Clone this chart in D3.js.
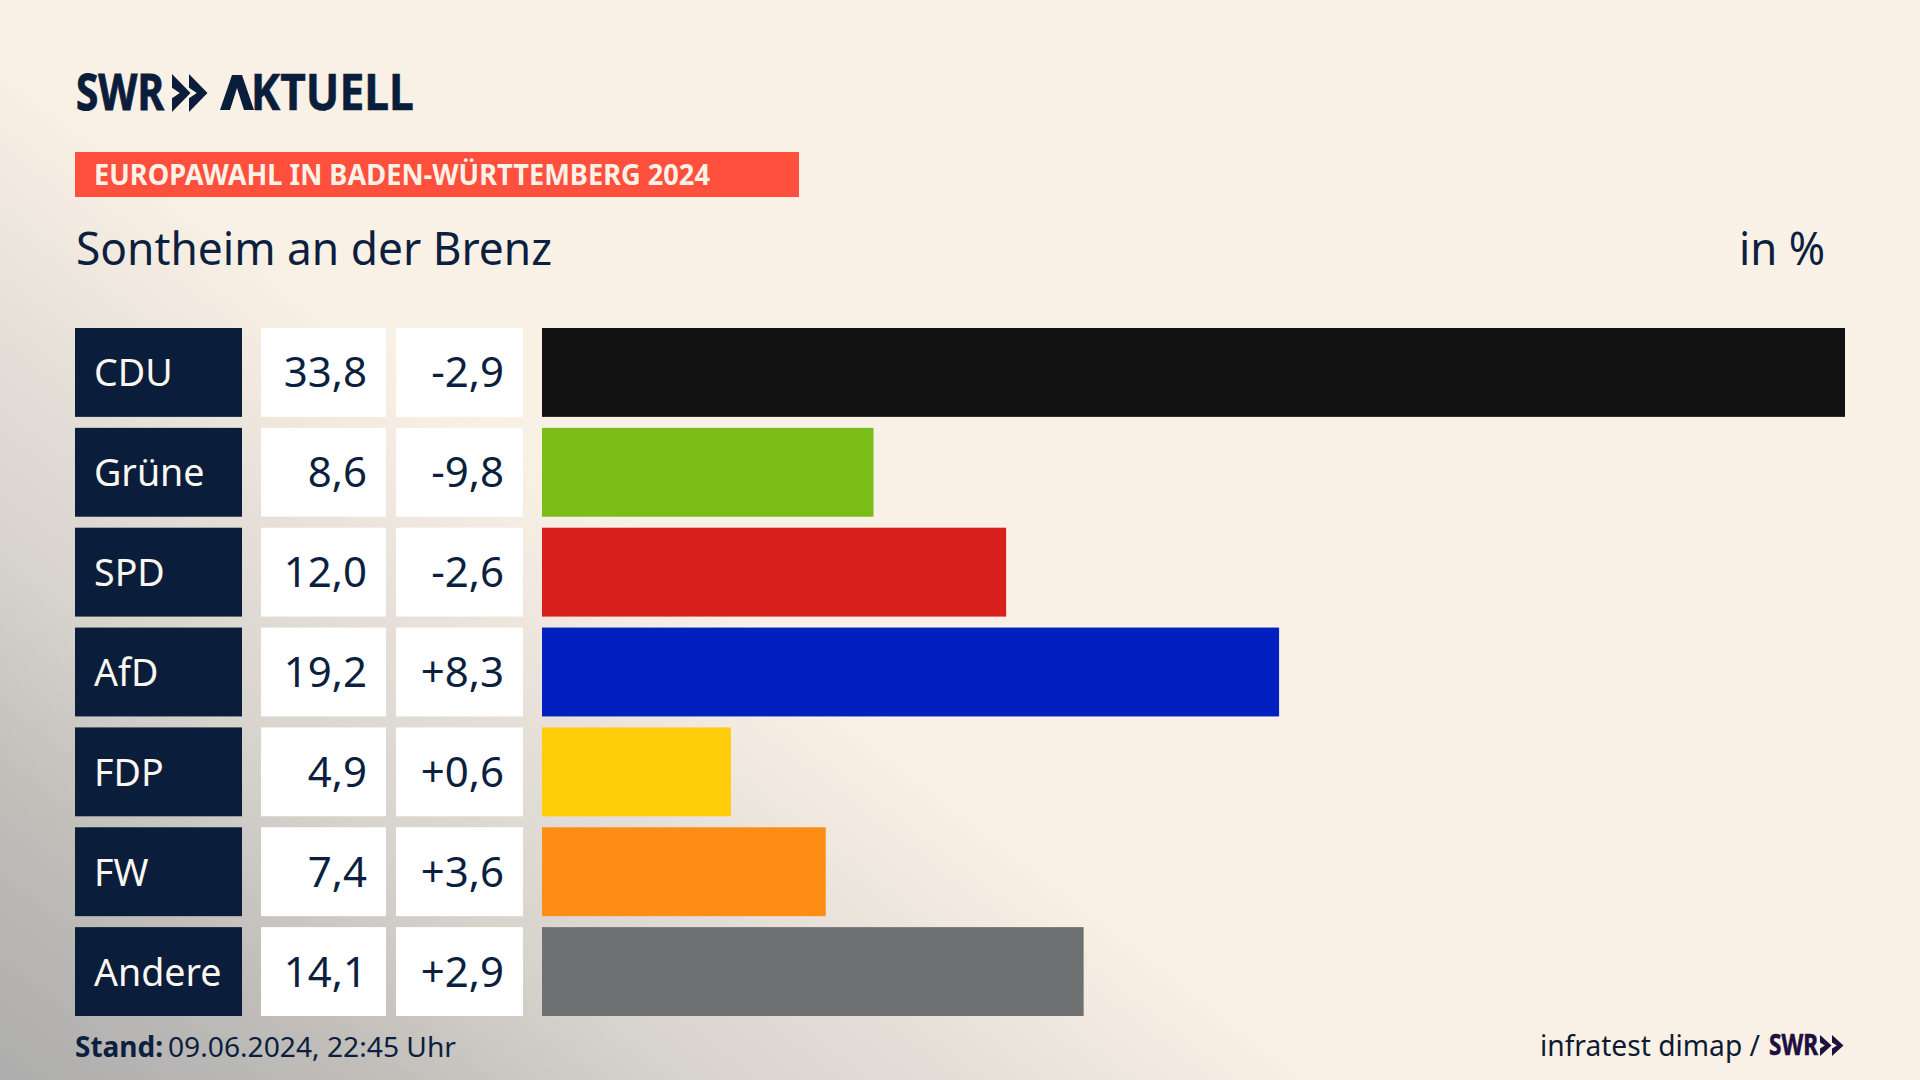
<!DOCTYPE html>
<html lang="de"><head><meta charset="utf-8">
<script src="https://d3js.org/d3.v7.min.js"></script>
<style>html,body{margin:0;padding:0;background:#faf1e6;overflow:hidden}svg{display:block}text{font-family:"Noto Sans",sans-serif}</style>
</head><body><svg id="c" width="1920" height="1080"></svg>
<script>
const parties=["CDU","Grüne","SPD","AfD","FDP","FW","Andere"];
const shares=["33,8","8,6","12,0","19,2","4,9","7,4","14,1"];
const changes=["-2,9","-9,8","-2,6","+8,3","+0,6","+3,6","+2,9"];
// bar lengths (they differ a little from the rounded labels)
const barValues=[33.8,8.6,12.04,19.12,4.9,7.36,14.05];
const colors=["#121212","#7abd19","#d91f1c","#0120bf","#ffcd09","#ff8c14","#6f7072"];
const banner="EUROPAWAHL IN BADEN-WÜRTTEMBERG 2024", place="Sontheim an der Brenz", unit="in %";
const NAVY="#0a1e3c", INK="#0c1f3f";
const svg=d3.select("#c"), defs=svg.append("defs");
const lg=defs.append("linearGradient").attr("id","bg").attr("gradientUnits","userSpaceOnUse")
 .attr("x1",0).attr("y1",1080).attr("x2",506).attr("y2",424);
[[0,"#adadad"],[.27,"#c0bdb9"],[.51,"#d7d3cd"],[.72,"#e5dfd8"],[.87,"#f2eae0"],[1,"#faf1e6"]].forEach(s=>lg.append("stop").attr("offset",s[0]).attr("stop-color",s[1]));
svg.append("rect").attr("width",1920).attr("height",1080).attr("fill","url(#bg)");
function label(x,y,s,size,opt={}){const t=svg.append("text").attr("x",x).attr("y",y).text(s).attr("font-size",size)
 .attr("fill",opt.fill||INK).attr("font-weight",opt.weight||400).attr("text-anchor",opt.anchor||"start");
 if(opt.len){t.attr("textLength",opt.len).attr("lengthAdjust","spacingAndGlyphs");}return t;}
// narrow heavy wordmark: font size chosen so the natural width fits, then stretched upward to cap height
function mark(x,y,s,size,width,fill,stroke){
 const t=svg.append("text").text(s).attr("font-size",size).attr("font-weight",700).attr("fill",fill).attr("stroke",fill);
 const L=t.node().getComputedTextLength(), k=width/L;
 t.attr("font-size",size*k).attr("stroke-width",stroke).attr("transform",`translate(${x},${y}) scale(1,${1/k})`);
 return t;}
function chevrons(xs,top,bot,w,fill){const m=(top+bot)/2,a=(bot-top)*.36,p=d3.path();
 xs.forEach(x=>{p.moveTo(x,top);p.lineTo(x+w,m);p.lineTo(x,bot);p.lineTo(x,bot-a);p.lineTo(x+w*.42,m);p.lineTo(x,top+a);p.closePath();});
 svg.append("path").attr("d",p.toString()).attr("fill",fill);}
// logo
mark(76,110,"SWR",50,88,NAVY,.8);
chevrons([172,189],74,112,18.5,NAVY);
const ak=mark(220,110,"AKTUELL",50,194,NAVY,.5);
ak.text(null);
ak.append("tspan").attr("fill","transparent").attr("stroke","none").text("A");ak.append("tspan").text("KTUELL");
const lam=d3.path();lam.moveTo(220,110);lam.lineTo(232,75);lam.lineTo(242,75);lam.lineTo(254,110);lam.lineTo(244,110);lam.lineTo(237,88);lam.lineTo(230,110);lam.closePath();
svg.append("path").attr("d",lam.toString()).attr("fill",NAVY);
// banner + title
svg.append("rect").attr("x",75).attr("y",152).attr("width",724).attr("height",45).attr("fill","#ff4f3d");
label(94,185,banner,28,{weight:700,fill:"#fbf2e7",len:616});
label(76,265,place,45,{len:476});
label(1739,265,unit,45,{len:86});
// chart
const y=d3.scaleBand().domain(parties).range([328,1016]).paddingInner(.11);
const x=d3.scaleLinear().domain([0,d3.max(barValues)]).range([542,1845]);
const rows=svg.selectAll("g.row").data(parties).join("g").attr("class","row").attr("transform",d=>`translate(0,${y(d)})`);
const h=y.bandwidth(), base=h/2+15;
rows.append("rect").attr("x",75).attr("width",167).attr("height",h).attr("fill",NAVY);
rows.append("rect").attr("x",261).attr("width",125).attr("height",h).attr("fill","#fff");
rows.append("rect").attr("x",396).attr("width",127).attr("height",h).attr("fill","#fff");
rows.append("rect").attr("x",x(0)).attr("width",(d,i)=>x(barValues[i])-x(0)).attr("height",h).attr("fill",(d,i)=>colors[i]);
rows.append("text").attr("x",94).attr("y",h/2+14).attr("font-size",37.6).attr("fill","#fbf7f0").text(d=>d);
rows.append("text").attr("x",367).attr("y",base).attr("font-size",42).attr("text-anchor","end").attr("fill",INK).text((d,i)=>shares[i]);
rows.append("text").attr("x",504).attr("y",base).attr("font-size",42).attr("text-anchor","end").attr("fill",INK).text((d,i)=>changes[i]);
// footer
label(75,1057,"Stand:",28,{weight:700,len:88});
label(168,1057,"09.06.2024, 22:45 Uhr",28,{len:288});
label(1540,1056,"infratest dimap /",29,{fill:"#0e1b33",len:220});
mark(1769,1055,"SWR",28,49,"#1f0f3f",.5);
chevrons([1820,1832],1035,1056,11.5,"#1f0f3f");
</script></body></html>
